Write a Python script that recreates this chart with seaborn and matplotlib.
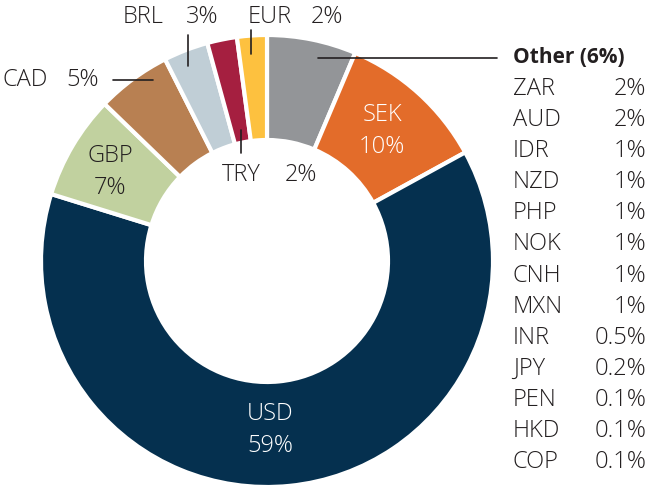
import matplotlib
matplotlib.use("Agg")
import matplotlib.pyplot as plt
import seaborn as sns

# Main slices, clockwise from 12 o'clock
moedas = ["Other", "SEK", "USD", "GBP", "CAD", "BRL", "TRY", "EUR"]
pesos = [6, 10, 59, 7, 5, 3, 2, 2]
cores = ["#939598", "#E36C2A", "#05304F", "#C1D19F", "#B88052", "#C0CED6", "#A51F40", "#FDC13F"]

# Breakdown of "Other"
outras_moedas = ["ZAR", "AUD", "IDR", "NZD", "PHP", "NOK", "CNH", "MXN", "INR", "JPY", "PEN", "HKD", "COP"]
outras_pesos = ["2%", "2%", "1%", "1%", "1%", "1%", "1%", "1%", "0.5%", "0.2%", "0.1%", "0.1%", "0.1%"]

sns.set_theme(style="white")
plt.rcParams["font.family"] = ["Open Sans", "DejaVu Sans"]

W, H = 648, 490
TXT = "#231F20"
FS = 17
PESO = "light"


def Y(y):
    # image pixel row -> data y
    return H - y


fig = plt.figure(figsize=(W / 100, H / 100), dpi=100)
ax = fig.add_axes([0, 0, 1, 1])

cx, cy, R, r_in = 267, 261, 226, 121
wedges, _ = ax.pie(
    pesos, colors=cores, startangle=90, counterclock=False,
    center=(cx, Y(cy)), radius=R,
    wedgeprops=dict(width=R - r_in, edgecolor="white", linewidth=3),
)
ax.set_xlim(0, W)
ax.set_ylim(0, H)
ax.set_aspect("equal")
ax.axis("off")

# labels inside the ring
kw = dict(fontsize=FS, fontweight=PESO, ha="center", va="center", linespacing=1.4)
ax.text(382, Y(131), "SEK\n10%", color="white", **kw)
ax.text(270, Y(430), "USD\n59%", color="white", **kw)
ax.text(110, Y(172), "GBP\n7%", color=TXT, **kw)

# labels outside with leader lines: (name, pct, x name, x pct, y)
linha = dict(color=TXT, linewidth=1.2)
fora = dict(color=TXT, fontsize=FS, fontweight=PESO, ha="left", va="center")
externos = [
    ("CAD", "5%", 2, 66, 80),
    ("BRL", "3%", 123, 186, 17),
    ("EUR", "2%", 248, 311, 17),
    ("TRY", "2%", 222, 285, 175),
]
for nome, pct, x1, x2, y in externos:
    ax.text(x1, Y(y), nome, **fora)
    ax.text(x2, Y(y), pct, **fora)

ax.plot([113, 153], [Y(80), Y(80)], **linha)
ax.plot([188, 188], [Y(35), Y(66)], **linha)
ax.plot([251, 251], [Y(30), Y(54)], **linha)
ax.plot([241, 241], [Y(130), Y(153)], **linha)
ax.plot([318, 497], [Y(58), Y(58)], **linha)
ax.text(513, Y(58), "Other (6%)", color=TXT, fontsize=FS - 2, fontweight="bold", ha="left", va="center")

# breakdown list
for i, (nome, peso) in enumerate(zip(outras_moedas, outras_pesos)):
    y = 89 + i * 31.1
    ax.text(513, Y(y), nome, **fora)
    ax.text(646, Y(y), peso, color=TXT, fontsize=FS, fontweight=PESO, ha="right", va="center")

fig.savefig("out.png", dpi=100)
plt.close(fig)
